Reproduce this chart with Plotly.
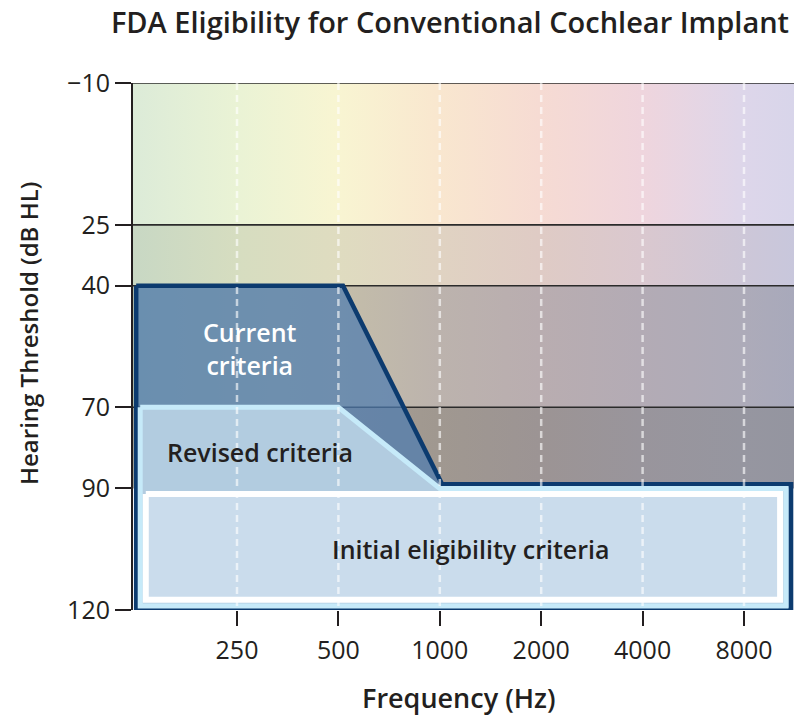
import math
import plotly.graph_objects as go

# ---------------- data ----------------
freq_ticks = [250, 500, 1000, 2000, 4000, 8000]
freq_labels = ["250", "500", "1000", "2000", "4000", "8000"]
db_ticks = [-10, 25, 40, 70, 90, 120]
db_labels = ["\u221210", "25", "40", "70", "90", "120"]
grid_db = [-10, 25, 40, 70]

# hearing-loss bands (dB HL) used for the shaded background
band_top = [-10, 25, 40, 70]
band_bottom = [25, 40, 70, 90]
stop_pos = [0, 0.157, 0.307, 0.459, 0.615, 0.767, 0.923, 1]
band_colors = [
    ["#dcebd8", "#eaf3d5", "#f8f5d2", "#f9e7cf", "#f6dbd3", "#efd5dd", "#ddd6ea", "#d8d5ea"],
    ["#c8d8c4", "#d6ddc0", "#dfdcc0", "#e0d3c2", "#dfcbc5", "#dac8cf", "#cdc7d8", "#c8c7dc"],
    ["#b4c0ad", "#bec2a8", "#c4bea9", "#bcb3ad", "#b9adb0", "#b3abb5", "#adabb9", "#a8a9bb"],
    ["#a8a89a", "#a8a396", "#a69e92", "#a09890", "#9c9494", "#99959c", "#9696a0", "#9495a0"],
]

# criteria polygons (frequency Hz, threshold dB HL)
current_freq = [125.5, 516, 1016, 11035, 11035, 125.5, 125.5]
current_db = [40, 40, 89, 89, 120, 120, 40]
revised_freq = [129, 500, 1000, 10660, 10660, 129, 129]
revised_db = [70, 70, 90, 90, 119, 119, 70]
initial_freq = [134, 10240, 10240, 134, 134]
initial_db = [91.4, 91.4, 117.5, 117.5, 91.4]

x_range_log = [2.0892, 4.0545]
x_min, x_max = 10 ** x_range_log[0], 10 ** x_range_log[1]

FONT = "Open Sans"
INK = "#231f20"
OFF = 8  # page body margin in the browser

fig = go.Figure()

# background bands with horizontal gradients
for top, bot, cols in zip(band_top, band_bottom, band_colors):
    fig.add_trace(go.Scatter(
        x=[x_min, x_max, x_max, x_min, x_min],
        y=[top, top, bot, bot, top],
        mode="lines", line=dict(width=0), fill="toself",
        fillgradient=dict(type="horizontal",
                          colorscale=[[p, c] for p, c in zip(stop_pos, cols)]),
        hoverinfo="skip", showlegend=False))

# horizontal grid lines
gx, gy = [], []
for v in grid_db:
    gx += [x_min, x_max, None]
    gy += [v, v, None]
fig.add_trace(go.Scatter(x=gx, y=gy, mode="lines",
                         line=dict(color="#2b2b2b", width=1.6),
                         hoverinfo="skip", showlegend=False))

# criteria shapes
fig.add_trace(go.Scatter(x=current_freq, y=current_db, mode="lines", fill="toself",
                         fillcolor="rgba(78,124,176,0.72)",
                         line=dict(color="#0c3b6f", width=4.5),
                         hoverinfo="skip", showlegend=False))
fig.add_trace(go.Scatter(x=revised_freq, y=revised_db, mode="lines", fill="toself",
                         fillcolor="#b2cce0",
                         line=dict(color="#c6eaf9", width=5),
                         hoverinfo="skip", showlegend=False))
fig.add_trace(go.Scatter(x=initial_freq, y=initial_db, mode="lines", fill="toself",
                         fillcolor="#cadcec",
                         line=dict(color="#ffffff", width=6),
                         hoverinfo="skip", showlegend=False))

# dashed vertical lines at the tick frequencies
vx, vy = [], []
for f in freq_ticks:
    vx += [f, f, None]
    vy += [-10, 120, None]
fig.add_trace(go.Scatter(x=vx, y=vy, mode="lines",
                         line=dict(color="rgba(255,255,255,0.62)", width=2.5, dash="7px,5px"),
                         hoverinfo="skip", showlegend=False))

ann_font = dict(family=FONT, size=25, color=INK, weight=600)
fig.add_annotation(x=math.log10(274), y=55.4, text="Current<br>criteria", showarrow=False,
                   font=dict(family=FONT, size=25, color="#ffffff", weight=600))
fig.add_annotation(x=math.log10(293), y=81, text="Revised criteria", showarrow=False,
                   font=ann_font)
fig.add_annotation(x=math.log10(1230), y=105, text="Initial eligibility criteria",
                   showarrow=False, font=ann_font)

# axis titles placed as annotations (paper coordinates)
fig.add_annotation(xref="paper", yref="paper", x=(458 - 133) / 662, y=(610 - 697) / 527,
                   text="Frequency (Hz)", showarrow=False, xanchor="center", yanchor="middle",
                   font=dict(family=FONT, size=27, color=INK, weight=600))
fig.add_annotation(xref="paper", yref="paper", x=(28 - 133) / 662, y=(610 - 334) / 527,
                   text="Hearing Threshold (dB HL)", showarrow=False, textangle=-90,
                   xanchor="center", yanchor="middle",
                   font=dict(family=FONT, size=24, color=INK, weight=600))

fig.update_layout(
    width=802 - OFF, height=720 - OFF,
    margin=dict(l=133 - OFF, r=7, t=83 - OFF, b=110),
    paper_bgcolor="white", plot_bgcolor="white",
    title=dict(text="FDA Eligibility for Conventional Cochlear Implant",
               x=(450 - OFF) / (802 - OFF), xref="container", xanchor="center",
               y=1 - (23 - OFF) / (720 - OFF), yanchor="middle",
               font=dict(family=FONT, size=29, color=INK, weight=600)),
    xaxis=dict(type="log", range=x_range_log, tickvals=freq_ticks, ticktext=freq_labels,
               ticks="outside", ticklen=15, tickwidth=2, tickcolor=INK,
               showgrid=False, zeroline=False, showline=False, automargin=False,
               ticklabelstandoff=3,
               tickfont=dict(family=FONT, size=25, color=INK)),
    yaxis=dict(range=[120, -10], tickvals=db_ticks, ticktext=db_labels,
               ticks="outside", ticklen=16, tickwidth=2, tickcolor=INK,
               showgrid=False, zeroline=False, showline=True, linecolor=INK,
               linewidth=2, automargin=False,
               tickfont=dict(family=FONT, size=25, color=INK)),
)

fig.write_html("out.html")
